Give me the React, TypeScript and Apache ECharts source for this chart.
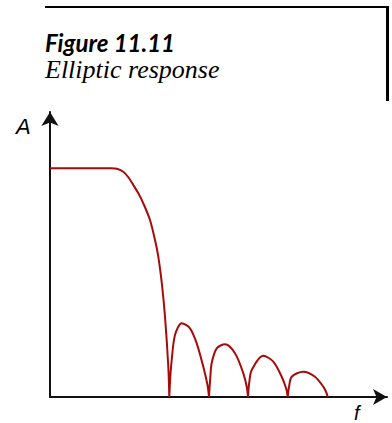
import React, { useEffect, useRef } from "react";
import * as echarts from "echarts";

// Frequency (x) / amplitude (y) points
const passband: number[][] = [
  [0, 228.7], [61.7, 228.7], [67, 228.2], [73.3, 225.3], [78.5, 219.5], [83.3, 212],
  [88.5, 203.5], [93.3, 193.7], [100, 177], [105, 157], [108.3, 140.3],
  [112, 112], [115, 80.3], [118.3, 30.3], [119.3, 0],
];
const lobe1: number[][] = [
  [119.3, 0], [120.3, 20], [121.7, 37], [125, 62], [131.7, 73.7], [140, 68.7],
  [146.7, 53.7], [153.3, 30.3], [157.5, 12], [159, 0],
];
const lobe2: number[][] = [
  [159, 0], [160.2, 18], [161.7, 34], [166.7, 48.7], [175, 52.7], [185, 43.7],
  [193.3, 23.7], [196.8, 10], [198, 0],
];
const lobe3: number[][] = [
  [198, 0], [199.2, 14], [201.7, 27], [213.3, 41.3], [223.3, 35.3], [231.7, 20.3],
  [236.3, 8], [237.7, 0],
];
const lobe4: number[][] = [
  [237.7, 0], [239, 10], [241.7, 20.3], [253.3, 25.3], [265, 20.3], [273.3, 10.3],
  [276.5, 4], [277.7, 0],
];

const titleText = "Figure 11.11";
const subtitleText = "Elliptic response";
const yName = "A";
const xName = "f";

export default function App() {
  const ref = useRef<HTMLDivElement>(null);
  useEffect(() => {
    if (!ref.current) return;
    const chart = echarts.init(ref.current, undefined, { renderer: "svg" });
    const segments = [passband, lobe1, lobe2, lobe3, lobe4];
    const data: any[] = [];
    segments.forEach((seg, i) => {
      if (i > 0) data.push("-");
      seg.forEach((p) => data.push(p));
    });
    const red = "#a80a0a";
    chart.setOption({
      animation: false,
      grid: { left: 50, right: 5, top: 112, bottom: 26 },
      xAxis: {
        type: "value",
        min: 0,
        max: 337,
        axisLine: {
          lineStyle: { color: "#111", width: 2 },
          symbol: ["none", "arrow"],
          symbolSize: [12, 14],
        },
        axisTick: { show: false },
        axisLabel: { show: false },
        splitLine: { show: false },
      },
      yAxis: {
        type: "value",
        min: 0,
        max: 285,
        axisLine: {
          show: true,
          lineStyle: { color: "#111", width: 2 },
          symbol: ["none", "arrow"],
          symbolSize: [13, 14],
        },
        axisTick: { show: false },
        axisLabel: { show: false },
        splitLine: { show: false },
      },
      series: [
        {
          type: "line",
          data,
          smooth: 0.3,
          showSymbol: false,
          connectNulls: false,
          lineStyle: { color: red, width: 2 },
          z: 3,
        },
      ],
      graphic: [
        { type: "line", shape: { x1: 45, y1: 7, x2: 389, y2: 7 }, style: { stroke: "#000", lineWidth: 2 } },
        { type: "line", shape: { x1: 387.5, y1: 6, x2: 387.5, y2: 101 }, style: { stroke: "#000", lineWidth: 3 } },
        {
          type: "text", x: 45, y: 54,
          style: { text: titleText, font: "italic bold 24px Lato", fill: "#000", textVerticalAlign: "bottom" },
        },
        {
          type: "text", x: 45, y: 82,
          style: { text: subtitleText, font: "italic 26px 'Liberation Serif'", fill: "#000", textVerticalAlign: "bottom" },
        },
        {
          type: "text", x: 16, y: 137,
          style: { text: yName, font: "italic 22px 'Liberation Sans'", fill: "#000", textVerticalAlign: "bottom" },
        },
        {
          type: "text", x: 354, y: 413,
          style: { text: xName, font: "italic 20px 'Liberation Sans'", fill: "#000", textVerticalAlign: "middle" },
        },
      ],
    });
    return () => chart.dispose();
  }, []);
  return (
    <div
      ref={ref}
      style={{ position: "fixed", left: 0, top: 0, width: 392, height: 423, background: "#fff" }}
    />
  );
}
